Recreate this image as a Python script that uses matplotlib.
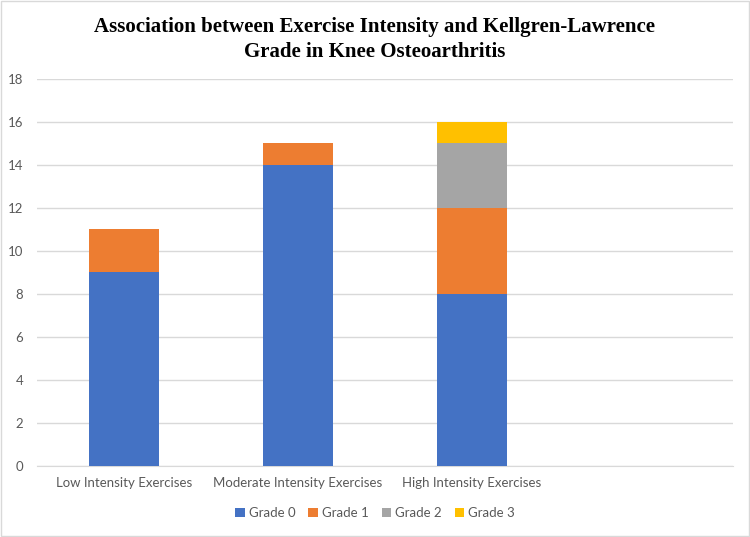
import matplotlib
matplotlib.use("Agg")
import matplotlib.pyplot as plt
from matplotlib.patches import Rectangle

categories = ["Low Intensity Exercises", "Moderate Intensity Exercises", "High Intensity Exercises", ""]
series_names = ["Grade 0", "Grade 1", "Grade 2", "Grade 3"]
grade0 = [9, 14, 8, 0]
grade1 = [2, 1, 4, 0]
grade2 = [0, 0, 3, 0]
grade3 = [0, 0, 1, 0]
colors = ["#4472C4", "#ED7D31", "#A5A5A5", "#FFC000"]

plt.rcParams['font.family'] = ['Lato', 'DejaVu Sans']
fig = plt.figure(figsize=(7.5, 5.37), dpi=100)
ax = fig.add_axes([0.0493, 0.1322, 0.928, 0.721])

x = list(range(len(categories)))
bottom = [0]*len(categories)
for name, vals, c in zip(series_names, [grade0, grade1, grade2, grade3], colors):
    ax.bar(x, vals, bottom=bottom, width=0.405, color=c, label=name, zorder=3)
    bottom = [b+v for b, v in zip(bottom, vals)]

ax.set_xlim(-0.5, len(categories)-0.5)
ax.set_ylim(0, 18)
ax.set_yticks(range(0, 19, 2))
ax.grid(axis='y', color='#D9D9D9', linewidth=1, zorder=0)
for s in ['top', 'right', 'left']:
    ax.spines[s].set_visible(False)
ax.spines['bottom'].set_color('#D9D9D9')
ax.tick_params(axis='both', length=0, colors='#595959', labelsize=9.5)
ax.tick_params(axis='y', pad=10)
ax.tick_params(axis='x', pad=8)
ax.set_xticks(x)
ax.set_xticklabels(categories)

fig.suptitle("Association between Exercise Intensity and Kellgren-Lawrence\nGrade in Knee Osteoarthritis",
             x=0.5, y=0.968, fontsize=15, fontweight='bold', family='Liberation Serif', linespacing=1.3)

ax.legend(loc='center', bbox_to_anchor=(0.5, 0.045), bbox_transform=fig.transFigure, ncol=4,
          frameon=False, fontsize=9.5, handlelength=0.7, handleheight=0.7, handletextpad=0.3,
          columnspacing=1.0, labelcolor='#595959')

fig.patches.append(Rectangle((0.001, 0.001), 0.997, 0.997, transform=fig.transFigure,
                             fill=False, edgecolor='#D9D9D9', linewidth=1))
fig.savefig("out.png", dpi=100)
